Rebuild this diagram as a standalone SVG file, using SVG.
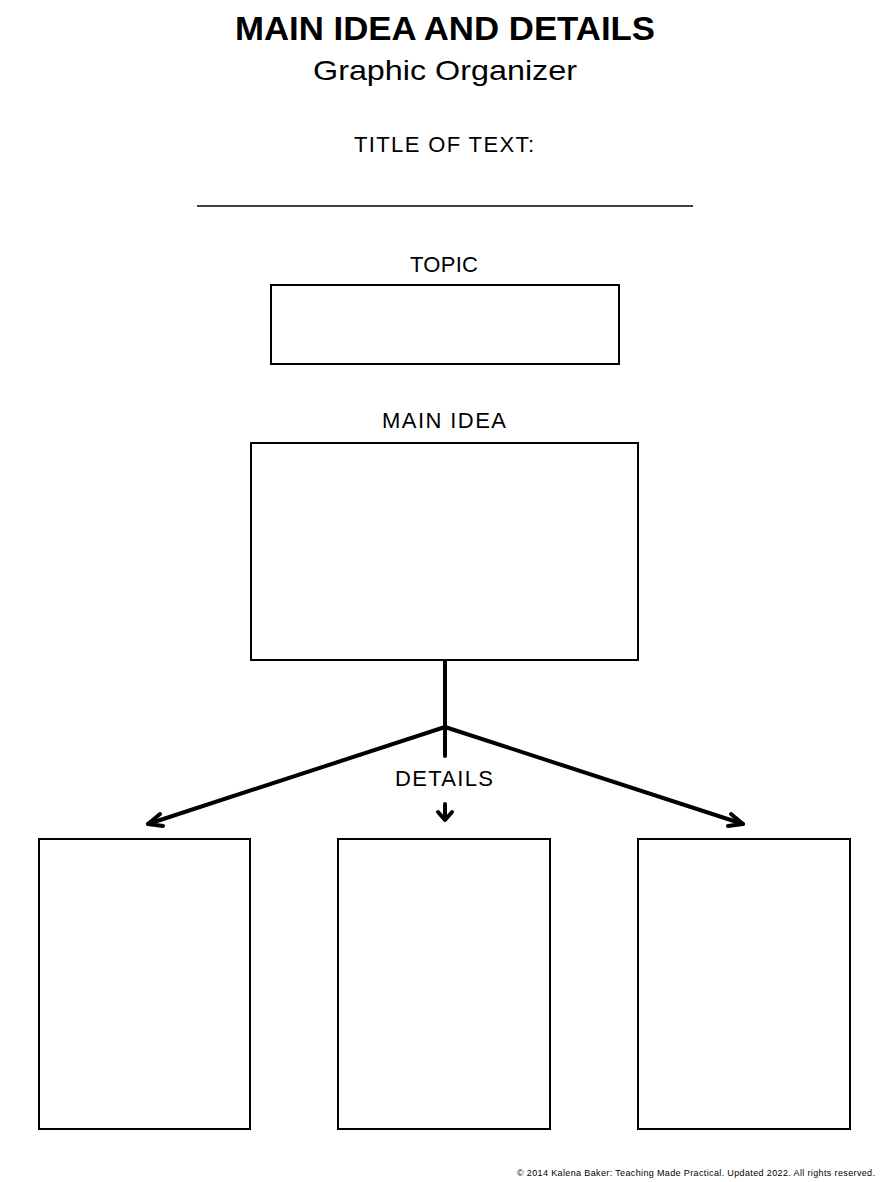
<svg xmlns="http://www.w3.org/2000/svg" width="890" height="1182" viewBox="0 0 890 1182">
<style>
.box{fill:#fff;stroke:#000;stroke-width:2}
.lbl{font-family:"Liberation Sans Narrow","Liberation Sans",sans-serif;font-size:22px;letter-spacing:2px;text-anchor:middle}
.ln{stroke:#000;stroke-width:4;fill:none;stroke-linecap:round;stroke-linejoin:round}
</style>
<rect width="890" height="1182" fill="#fff"/>
<text x="445" y="40" text-anchor="middle" font-family="Liberation Sans,sans-serif" font-weight="900" font-size="34" textLength="420" lengthAdjust="spacingAndGlyphs">MAIN IDEA AND DETAILS</text>
<text x="445" y="80" text-anchor="middle" font-family="Liberation Sans,sans-serif" font-size="28" textLength="264" lengthAdjust="spacingAndGlyphs">Graphic Organizer</text>
<text class="lbl" x="445" y="152" textLength="182">TITLE OF TEXT:</text>
<line x1="197" y1="206" x2="693" y2="206" stroke="#000" stroke-width="1.5"/>
<g id="topic"><text class="lbl" x="445" y="272" textLength="70">TOPIC</text><rect class="box" x="271" y="285" width="348" height="79"/></g>
<g id="main"><text class="lbl" x="445" y="428" textLength="126">MAIN IDEA</text><rect class="box" x="251" y="443" width="387" height="217"/></g>
<g id="d1"><rect class="box" x="39" y="839" width="211" height="290"/></g>
<g id="d2"><rect class="box" x="338" y="839" width="212" height="290"/></g>
<g id="d3"><rect class="box" x="638" y="839" width="212" height="290"/></g>
<text class="lbl" x="445" y="786" textLength="100">DETAILS</text>
<g id="connectors">
<path class="ln" d="M445 661V756M445 727L148 824M445 727L743 824"/>
<path class="ln" d="M148 824L160 814M148 824L163 826M743 824L728 826M743 824L731 814"/>
<path class="ln" d="M445 804V820M438 812L445 820L452 812"/>
</g>
<text x="875" y="1176" text-anchor="end" font-family="Liberation Sans,sans-serif" font-size="9" textLength="358">© 2014 Kalena Baker: Teaching Made Practical.  Updated 2022.  All rights reserved.</text>
</svg>
